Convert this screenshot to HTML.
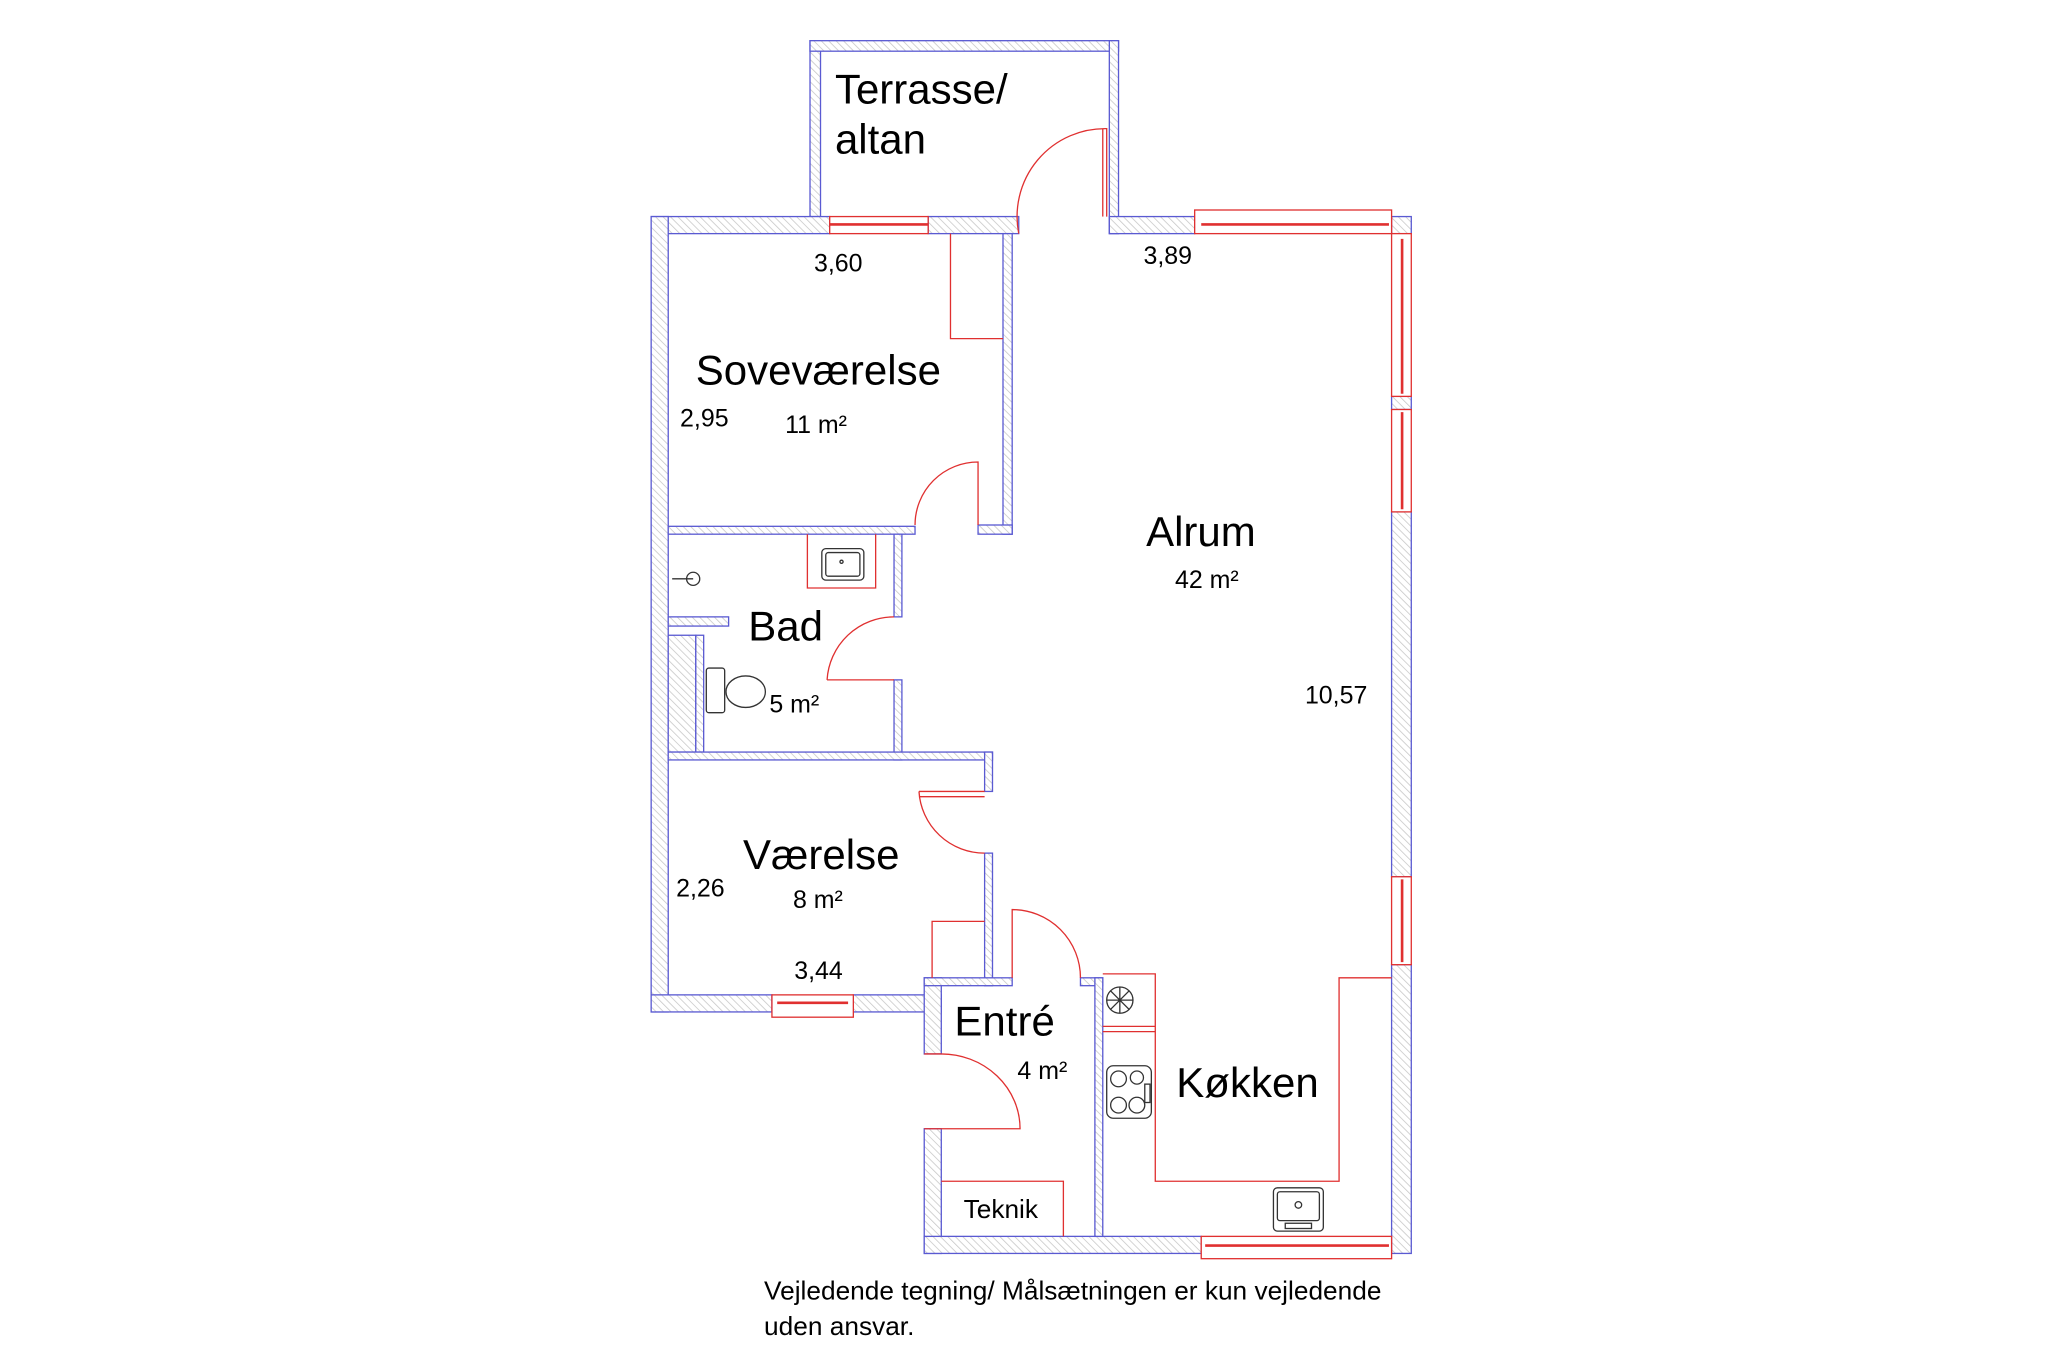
<!DOCTYPE html>
<html><head><meta charset="utf-8"><style>
html,body{margin:0;padding:0;background:#fff;}
svg{display:block;}
text{font-family:"Liberation Sans",Arial,sans-serif;fill:#000;}
</style></head><body>
<svg width="2048" height="1365" viewBox="0 0 1560 1040" preserveAspectRatio="none" xmlns="http://www.w3.org/2000/svg">
<defs>
<pattern id="h" width="4" height="4" patternUnits="userSpaceOnUse" patternTransform="rotate(-45)">
<rect width="4" height="4" fill="#fff"/><line x1="0" y1="0" x2="0" y2="4" stroke="#c8c8c8" stroke-width="1.2"/>
</pattern>
</defs>
<rect width="1560" height="1040" fill="#fff"/>
<g fill="url(#h)" stroke="#5a5ad2" stroke-width="1">
<rect x="617" y="31" width="8" height="134"/>
<rect x="617" y="31" width="235" height="8"/>
<rect x="845" y="31" width="7" height="147"/>
<rect x="496" y="165" width="136" height="13"/>
<rect x="707" y="165" width="69" height="13"/>
<rect x="845" y="165" width="65" height="13"/>
<rect x="1060" y="165" width="15" height="13"/>
<rect x="496" y="165" width="13" height="606"/>
<rect x="1060" y="390" width="15" height="278"/>
<rect x="1060" y="735" width="15" height="220"/>
<rect x="1060" y="302" width="15" height="10"/>
<rect x="496" y="758" width="92" height="13"/>
<rect x="650" y="758" width="67" height="13"/>
<rect x="704" y="745" width="13" height="58"/>
<rect x="704" y="860" width="13" height="95"/>
<rect x="704" y="942" width="211" height="13"/>
<rect x="764" y="178" width="7" height="229"/>
<rect x="745" y="400" width="26" height="7"/>
<rect x="509" y="401" width="188" height="6"/>
<rect x="681" y="407" width="6" height="63"/>
<rect x="681" y="518" width="6" height="61"/>
<rect x="509" y="470" width="46" height="7"/>
<rect x="509" y="484" width="21" height="89"/>
<rect x="530" y="484" width="6" height="89"/>
<rect x="509" y="573" width="247" height="6"/>
<rect x="750" y="573" width="6" height="30"/>
<rect x="750" y="650" width="6" height="101"/>
<rect x="704" y="745" width="67" height="6"/>
<rect x="823" y="745" width="17" height="6"/>
<rect x="834" y="745" width="6" height="197"/>
</g>
<g fill="#fff" stroke="#e03030" stroke-width="1">
<rect x="632" y="165" width="75" height="13"/><line x1="632" y1="171" x2="707" y2="171" stroke-width="2"/>
<rect x="910" y="160" width="150" height="18"/><line x1="915" y1="171" x2="1058" y2="171" stroke-width="2"/>
<rect x="1060" y="178" width="15" height="124"/><line x1="1068" y1="182" x2="1068" y2="300" stroke-width="2"/>
<rect x="1060" y="312" width="15" height="78"/><line x1="1068" y1="314" x2="1068" y2="388" stroke-width="2"/>
<rect x="1060" y="668" width="15" height="67"/><line x1="1068" y1="670" x2="1068" y2="733" stroke-width="2"/>
<rect x="588" y="758" width="62" height="17"/><line x1="592" y1="764" x2="646" y2="764" stroke-width="2"/>
<rect x="915" y="942" width="145" height="17"/><line x1="918" y1="949" x2="1058" y2="949" stroke-width="2"/>
</g>
<g fill="none" stroke="#e03030" stroke-width="1">
<path d="M776 178 A67 67 0 0 1 843 98 L843 165"/><line x1="840" y1="98" x2="840" y2="165"/>
<path d="M697 400 A48 48 0 0 1 745 352 L745 400"/>
<path d="M630 518 A51 51 0 0 1 681 470"/><line x1="630" y1="518" x2="681" y2="518"/>
<path d="M700 603 A50 50 0 0 0 750 650"/><line x1="700" y1="603" x2="750" y2="603"/><line x1="700" y1="607" x2="750" y2="607"/>
<path d="M771 745 L771 693 A52 52 0 0 1 823 745"/>
<path d="M717 803 A60 57 0 0 1 777 860 L717 860"/><line x1="704" y1="803" x2="717" y2="803"/><line x1="704" y1="860" x2="717" y2="860"/>
<path d="M724 178 L724 258 L764 258"/>
<path d="M710 745 L710 702 L750 702"/>
<path d="M717 900 L810 900 L810 942"/>
<path d="M840 742 L880 742 L880 900 L1020 900 L1020 745 L1060 745"/>
<line x1="840" y1="782" x2="880" y2="782"/><line x1="840" y1="786" x2="880" y2="786"/>
<path d="M615 407 L615 448 L667 448 L667 407"/>
</g>
<g fill="none" stroke="#333" stroke-width="1">
<rect x="626" y="418" width="32" height="24" rx="3"/><rect x="629" y="421" width="26" height="18" rx="2"/>
<circle cx="641" cy="428" r="1.2"/>
<circle cx="528" cy="441" r="5"/><line x1="512" y1="441" x2="528" y2="441"/>
<rect x="538" y="509" width="14" height="34" rx="2"/>
<ellipse cx="568" cy="527" rx="15" ry="12"/>
<rect x="843" y="812" width="34" height="40" rx="5"/>
<circle cx="852" cy="822" r="6"/><circle cx="866" cy="821" r="5"/><circle cx="852" cy="842" r="6"/><circle cx="866" cy="842" r="6"/>
<rect x="872" y="826" width="4" height="14"/>
<circle cx="853" cy="762" r="10"/>
<path d="M843 762 L863 762 M853 752 L853 772 M846 755 L860 769 M860 755 L846 769"/>
<rect x="970" y="905" width="38" height="33" rx="3"/><rect x="973" y="908" width="32" height="22" rx="2"/>
<circle cx="989" cy="918" r="2.5"/><rect x="979" y="932" width="20" height="4"/>
</g>
<g font-size="32">
<text x="636" y="79">Terrasse/</text>
<text x="636" y="117">altan</text>
<text x="530" y="293">Soveværelse</text>
<text x="873" y="416">Alrum</text>
<text x="570" y="488">Bad</text>
<text x="566" y="662">Værelse</text>
<text x="727" y="789">Entré</text>
<text x="896" y="836">Køkken</text>
</g>
<g font-size="19">
<text x="620" y="207">3,60</text>
<text x="871" y="201">3,89</text>
<text x="518" y="325">2,95</text>
<text x="598" y="330">11 m²</text>
<text x="895" y="448">42 m²</text>
<text x="586" y="543">5 m²</text>
<text x="994" y="536">10,57</text>
<text x="515" y="683">2,26</text>
<text x="604" y="692">8 m²</text>
<text x="605" y="746">3,44</text>
<text x="775" y="822">4 m²</text>
<text x="734" y="928" font-size="20">Teknik</text>
<text x="582" y="990" font-size="20">Vejledende tegning/ Målsætningen er kun vejledende</text>
<text x="582" y="1017" font-size="20">uden ansvar.</text>
</g>
</svg>
</body></html>
